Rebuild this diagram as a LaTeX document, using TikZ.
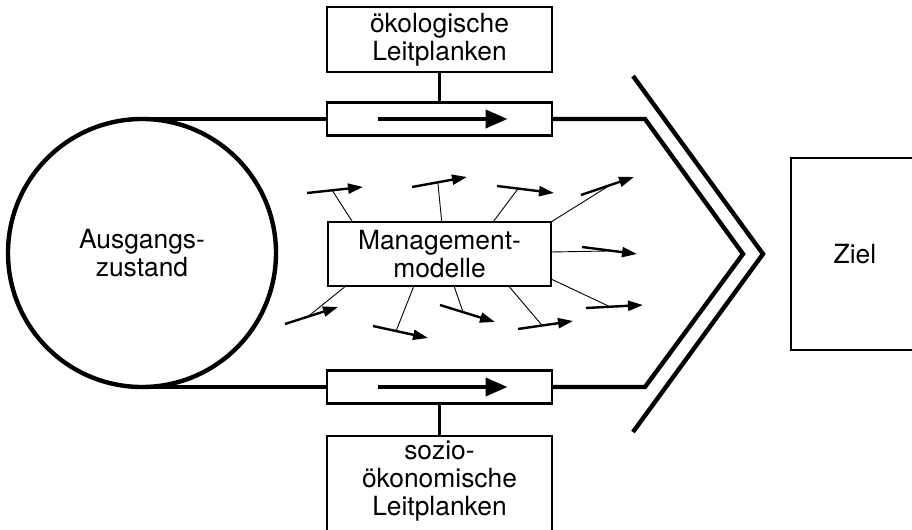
\documentclass[tikz,border=0pt]{standalone}
\usepackage{fontspec}
\setmainfont{TeX Gyre Heros}
\usepackage{tikz}
\usetikzlibrary{arrows.meta, calc}
\newcommand{\diagfont}{\fontsize{13.2}{14}\selectfont}

\begin{document}
\begin{tikzpicture}[
    x=0.5pt, y=-0.5pt,
    box/.style={rectangle, draw, line width=1.1pt, fill=white, inner sep=0pt,
                outer sep=0pt, align=center, font=\diagfont},
    tube/.style={rectangle, draw, line width=1.1pt, fill=white, inner sep=0pt,
                 outer sep=0pt, minimum width=112.5pt, minimum height=16.5pt},
    rail/.style={line width=2.2pt},
    stem/.style={line width=1.1pt},
    push/.style={-{Triangle[length=11pt, width=9pt]}, line width=2pt},
    move/.style={-{Triangle[length=7.5pt, width=5pt]}, line width=1.2pt},
    link/.style={line width=0.45pt}
]
\path [use as bounding box, clip] (0,0) rectangle (912,530);

% Ausgangszustand, Leitplanken und Ziel
\node (circ) [circle, draw, line width=2.2pt, minimum size=134pt, inner sep=0pt,
              outer sep=0pt, align=center, font=\diagfont] at (142,253)
    {Ausgangs-\\zustand};
\node (tube1) [tube] at (439.5,119) {};
\node (tube2) [tube] at (439.5,387) {};
\node (oeko) [box, minimum width=112.5pt, minimum height=32.5pt] at (439.5,39.5)
    {ökologische\\Leitplanken};
\node (soziobox) [box, anchor=north, minimum width=112.5pt, minimum height=60pt]
    at (439.5,436) {};
\node (sozio) [align=center, font=\diagfont, inner sep=0pt] at (439.5,481)
    {sozio-\\ökonomische\\Leitplanken};
\node (mgmt) [box, minimum width=111.5pt, minimum height=32pt] at (439.5,254)
    {Management-\\modelle};
\node (ziel) [box, minimum width=64pt, minimum height=96pt] at (855,254) {Ziel};

% Korridor
\coordinate (tipu) at (645,119);
\coordinate (tip) at (743,254);
\coordinate (tipl) at (645,387);
\draw [rail] (circ.north) -- (tube1.west);
\draw [rail] (circ.south) -- (tube2.west);
\draw [rail] (tube1.east) -- (tipu) -- (tip) -- (tipl) -- (tube2.east);
\coordinate (outu) at (633,76);
\coordinate (outtip) at (763,254);
\coordinate (outl) at (633,432);
\draw [rail] (outu) -- (outtip) -- (outl);

\draw [stem] (oeko) -- (tube1);
\draw [stem] (soziobox) -- (tube2);
\draw [push] ($(tube1.center)+(-62,0)$) -- ($(tube1.center)+(68,0)$);
\draw [push] ($(tube2.center)+(-62,0)$) -- ($(tube2.center)+(68,0)$);

% Managementmodelle
\draw [move] (307,193) -- (363,187) coordinate[pos=0.45] (m1);
\draw [link] ($(mgmt.north west)!0.11!(mgmt.north east)$) -- (m1);
\draw [move] (412,187) -- (467,177) coordinate[pos=0.47] (m2);
\draw [link] ($(mgmt.north west)!0.51!(mgmt.north east)$) -- (m2);
\draw [move] (497,186) -- (554,193) coordinate[pos=0.37] (m3);
\draw [link] ($(mgmt.north west)!0.74!(mgmt.north east)$) -- (m3);
\draw [move] (581,195) -- (634,177) coordinate[pos=0.55] (m4);
\draw [link] (mgmt.north east) -- (m4);
\draw [move] (582,247) -- (637,254) coordinate[pos=0.56] (m5);
\draw [link] ($(mgmt.east)+(0,-2)$) -- (m5);
\draw [move] (586,308) -- (643,305) coordinate[pos=0.42] (m6);
\draw [link] ($(mgmt.east)!0.78!(mgmt.south east)$) -- (m6);
\draw [move] (518,329) -- (573,321) coordinate[pos=0.44] (m7);
\draw [link] ($(mgmt.south west)!0.81!(mgmt.south east)$) -- (m7);
\draw [move] (440,305) -- (495,322) coordinate[pos=0.42] (m8);
\draw [link] ($(mgmt.south west)!0.565!(mgmt.south east)$) -- (m8);
\draw [move] (373,326) -- (428,338) coordinate[pos=0.42] (m9);
\draw [link] ($(mgmt.south west)!0.385!(mgmt.south east)$) -- (m9);
\draw [move] (285,324) -- (338,307) coordinate[pos=0.43] (m10);
\draw [link] ($(mgmt.south west)!0.08!(mgmt.south east)$) -- (m10);
\end{tikzpicture}
\end{document}
